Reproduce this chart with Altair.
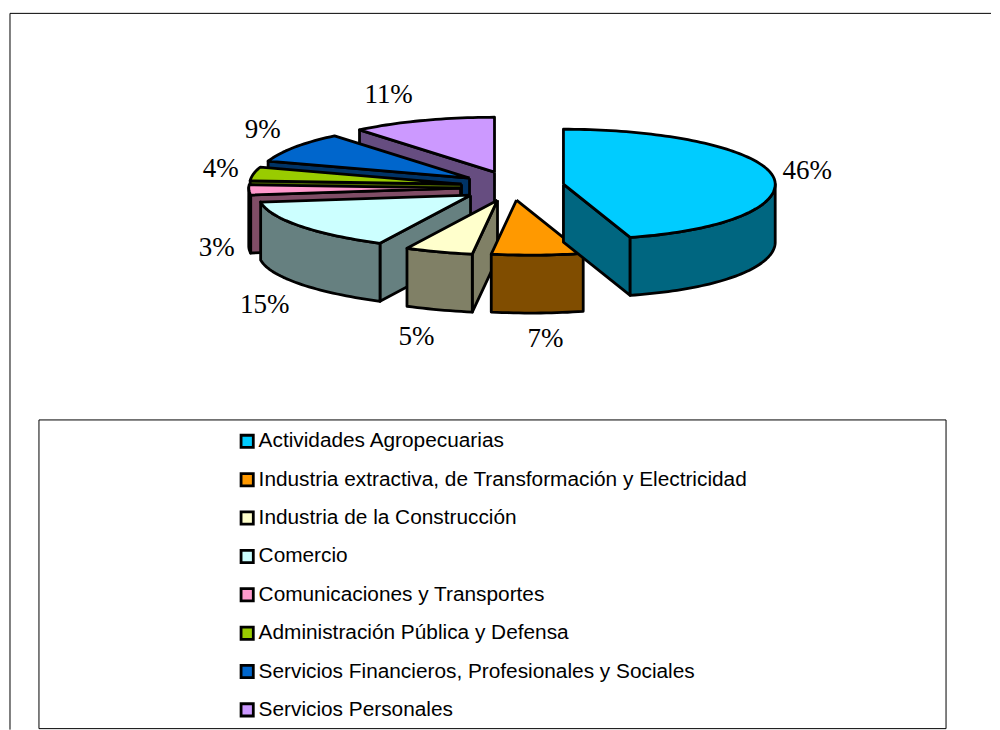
import math
import altair as alt
import pandas as pd

# --- values
categories = ["Actividades Agropecuarias",
              "Industria extractiva, de Transformación y Electricidad",
              "Industria de la Construcción",
              "Comercio",
              "Comunicaciones y Transportes",
              "Administración Pública y Defensa",
              "Servicios Financieros, Profesionales y Sociales",
              "Servicios Personales"]
shares = [46, 7, 5, 15, 3, 4, 9, 11]
top_colors = ["#00CCFF", "#FF9900", "#FFFFCC", "#CCFFFF", "#FF99CC", "#99CC00", "#0066CC", "#CC99FF"]
side_colors = ["#006680", "#804D00", "#808066", "#668080", "#804D66", "#4D6600", "#003366", "#664D80"]

# --- pie layout (page pixels)
W, H = 984, 722
OX, OY = 8, 8
CX, CY = 500, 184
RX, RY, DEPTH = 212, 55, 58
FRONT_SHIFT = 15
explode = [(64, 0), (17, 16), (-2, 16), (-29, 11), (-39, 4), (-38, 0), (-30, -6), (-5, -12)]
draw_order = [7, 6, 5, 4, 3, 2, 1, 0]
label_xy = [(808, 171), (546, 339), (417, 337), (265, 305), (217, 248), (221, 169), (263, 130), (389, 95)]


def rim(theta):
    c, s = math.cos(theta), math.sin(theta)
    shift = FRONT_SHIFT * c * c if c < 0 else 0
    return RX * s + shift, -RY * c


rows = []
seq = 0


def add_face(piece, key, pts):
    global seq
    for (x, y) in pts + [pts[0]]:
        rows.append({"piece": piece, "key": key, "seq": seq, "px": x, "py": y})
        seq += 1


cum = [sum(shares[:i]) for i in range(len(shares) + 1)]
total = cum[-1]
piece_no = 0
for i in draw_order:
    t0 = cum[i] / total * 2 * math.pi
    t1 = cum[i + 1] / total * 2 * math.pi
    vx, vy = CX + explode[i][0], CY + explode[i][1]
    steps = max(4, int((t1 - t0) * 40))
    angles = [t0 + (t1 - t0) * k / steps for k in range(steps + 1)]
    arc = [(vx + rim(a)[0], vy + rim(a)[1]) for a in angles]
    side = categories[i] + " (lado)"
    # visible cut faces
    if math.sin(t0) < -1e-9:
        x, y = arc[0]
        add_face(f"{piece_no:02d}a", side, [(vx, vy), (x, y), (x, y + DEPTH), (vx, vy + DEPTH)])
    if math.sin(t1) > 1e-9:
        x, y = arc[-1]
        add_face(f"{piece_no:02d}b", side, [(vx, vy), (x, y), (x, y + DEPTH), (vx, vy + DEPTH)])
    # outer wall: the part of the rim that faces the viewer
    front = [p for p, a in zip(arc, angles) if math.cos(a) <= 0.02]
    if len(front) > 1:
        add_face(f"{piece_no:02d}c", side, front + [(x, y + DEPTH) for x, y in reversed(front)])
    # top
    add_face(f"{piece_no:02d}d", categories[i], [(vx, vy)] + arc)
    piece_no += 1

df = pd.DataFrame(rows)

x_scale = alt.Scale(domain=[OX, OX + W], range=[0, W], nice=False, zero=False)
y_scale = alt.Scale(domain=[OY, OY + H], range=[0, H], nice=False, zero=False)
X = lambda f: alt.X(f, type="quantitative", scale=x_scale, axis=None)
Y = lambda f: alt.Y(f, type="quantitative", scale=y_scale, axis=None)

domain = categories + [c + " (lado)" for c in categories]
colors = top_colors + side_colors

pie = alt.Chart(df).mark_line(stroke="black", strokeWidth=2.8, strokeJoin="round", interpolate="linear").encode(
    x=X("px"),
    y=Y("py"),
    detail="piece:N",
    order="seq:Q",
    fill=alt.Fill("key:N", scale=alt.Scale(domain=domain, range=colors),
                  legend=alt.Legend(values=categories, title=None, orient="none",
                                    legendX=229, legendY=423, symbolType="square",
                                    symbolSize=150, symbolStrokeColor="black", symbolStrokeWidth=2.8,
                                    labelFont="Liberation Sans", labelFontSize=20.85, labelColor="black",
                                    labelLimit=600, labelOffset=1, rowPadding=13.4, symbolOpacity=1)),
)

labels_df = pd.DataFrame({"t": [f"{v}%" for v in shares],
                          "px": [p[0] for p in label_xy], "py": [p[1] for p in label_xy]})
labels = alt.Chart(labels_df).mark_text(font="Liberation Serif", fontSize=27, color="black",
                                        align="center", baseline="middle").encode(
    x=X("px"), y=Y("py"), text="t:N")

box = alt.Chart(pd.DataFrame({"a": [39], "b": [947], "c": [420], "d": [729]})).mark_rect(
    fill="white", stroke="black", strokeWidth=1).encode(
    x=X("a"), x2="b:Q", y=Y("c"), y2="d:Q")

frame_top = alt.Chart(pd.DataFrame({"a": [10], "b": [992], "c": [13]})).mark_rule(color="black", strokeWidth=1).encode(
    x=X("a"), x2="b:Q", y=Y("c"))
frame_left = alt.Chart(pd.DataFrame({"a": [10], "c": [13], "d": [730]})).mark_rule(color="black", strokeWidth=1).encode(
    x=X("a"), y=Y("c"), y2="d:Q")

chart = (alt.layer(frame_top, frame_left, box, pie, labels)
         .properties(width=W, height=H, padding=0, background="white")
         .configure_view(stroke=None))

chart.save("out.html", embed_options={"renderer": "svg", "actions": False})
